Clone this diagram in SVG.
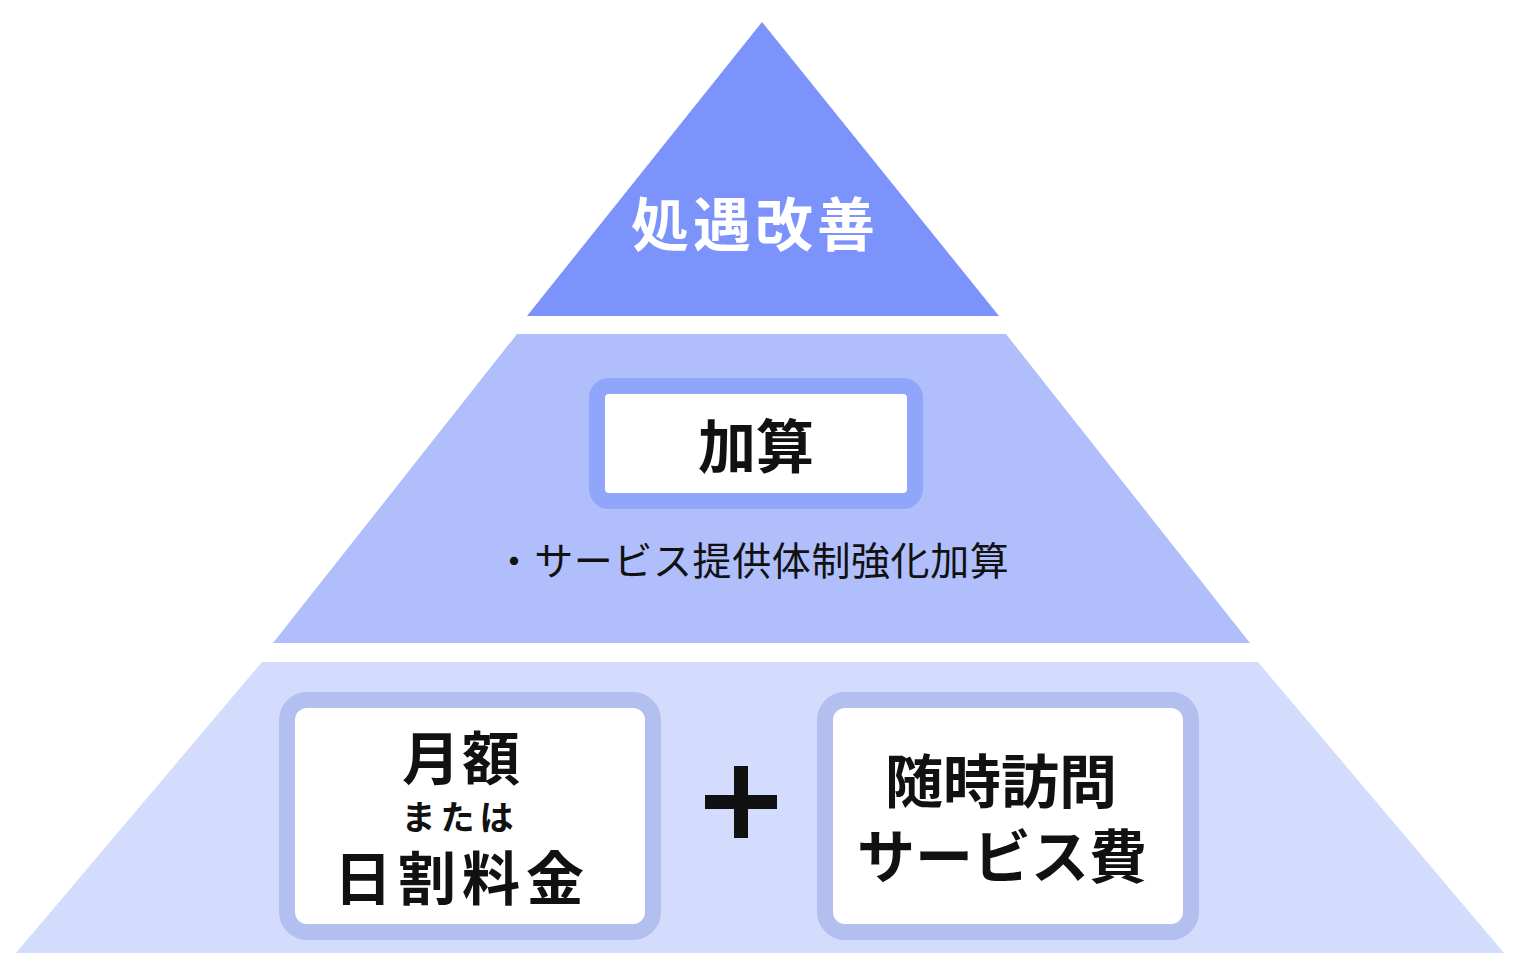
<svg xmlns="http://www.w3.org/2000/svg" width="1523" height="973" viewBox="0 0 1523 973">
<style>
text{font-family:"Noto Sans CJK JP","Noto Sans",sans-serif;text-anchor:middle}
.b{font-weight:700;font-size:58px;fill:#111}
.box{fill:#fff;stroke-width:16}
</style>
<rect width="1523" height="973" fill="#fff"/>
<g id="top"><polygon points="762,22 999,316 527,316" fill="#7b93fa"/>
<text x="755" y="246" class="b" style="fill:#fff" letter-spacing="4">処遇改善</text></g>
<g id="middle"><polygon points="517,334 1006,334 1250,643 273,643" fill="#b0bffb"/>
<rect x="597" y="386" width="318" height="115" rx="12" class="box" stroke="#8fa6fb"/>
<text x="756" y="468" class="b">加算</text>
<text x="752" y="575" font-size="39" fill="#111" letter-spacing="0.6">・サービス提供体制強化加算</text></g>
<g id="bottom"><polygon points="262,662 1258,662 1504,953 16,953" fill="#d3dcfd"/></g>
<g id="left"><rect x="287" y="700" width="366" height="232" rx="20" class="box" stroke="#b3bfee"/>
<text x="462" y="780" class="b" letter-spacing="2">月額</text>
<text x="460" y="830" font-size="34" font-weight="700" fill="#111" letter-spacing="5">または</text>
<text x="462" y="900" class="b" letter-spacing="6">日割料金</text></g>
<g id="plus"><path d="M741,766V838M705,802H777" stroke="#111" stroke-width="14"/></g>
<g id="right"><rect x="825" y="700" width="366" height="232" rx="20" class="box" stroke="#b3bfee"/>
<text x="1001" y="803" class="b" font-size="56">随時訪問</text>
<text x="1002" y="878" class="b" font-size="56">サービス費</text></g>
<g id="connectors"/>
</svg>
